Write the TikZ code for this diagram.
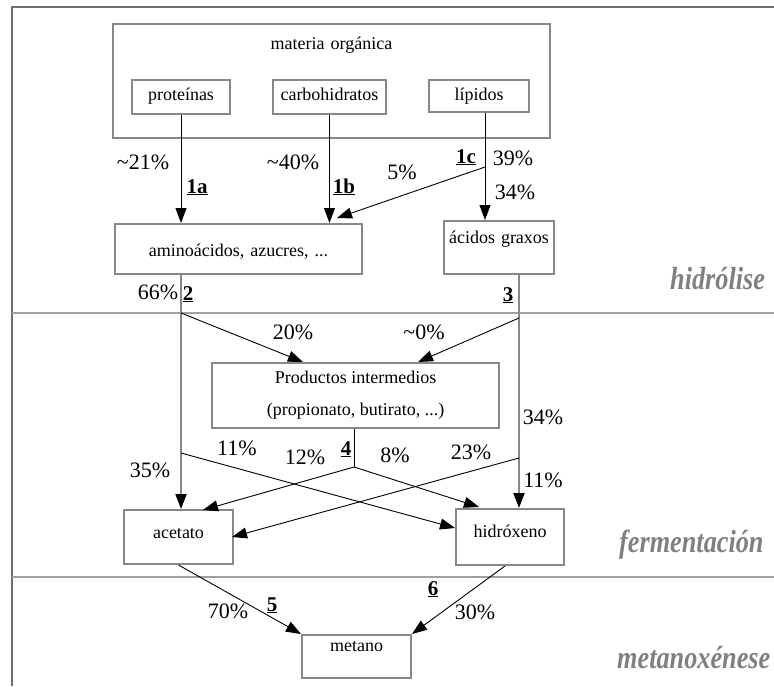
\documentclass[tikz,border=0pt]{standalone}
\usepackage{fontspec}
\setmainfont{Liberation Serif}
\newfontfamily\phasefont[FakeStretch=0.82]{Liberation Serif}
\usetikzlibrary{arrows.meta}
\definecolor{boxgray}{HTML}{888888}
\definecolor{sepgray}{HTML}{A0A0A0}
\definecolor{framegray}{HTML}{707070}
\definecolor{phasegray}{HTML}{808080}
\newcommand\ulnum[1]{\underline{\textbf{#1}}}
\begin{document}
\begin{tikzpicture}[x=1pt,y=-1pt,
  box/.style={draw=boxgray, line width=2pt, inner sep=0pt, align=center, anchor=base, font=\fontsize{18}{21}\selectfont},
  lbl/.style={font=\fontsize{22}{26}\selectfont, inner sep=0pt},
  num/.style={font=\fontsize{21}{26}\selectfont, inner sep=0pt, anchor=base},
  phase/.style={font=\fontsize{32}{36}\phasefont\bfseries\itshape, text=phasegray, anchor=base west, inner sep=0pt},
  arr/.style={draw=black, line width=0.9pt, -{Triangle[length=15pt,width=11pt]}},
  garr/.style={draw=boxgray, line width=2pt, -{Triangle[length=15pt,width=11pt,color=black]}},
  plain/.style={draw=black, line width=0.9pt},
  sepline/.style={draw=sepgray, line width=1.3pt},
  frameline/.style={draw=framegray, line width=2pt}]
\useasboundingbox (0,0) rectangle (774,686);
% frame and separators
\coordinate (fTL) at (12,7);
\coordinate (fTR) at (774,7);
\coordinate (fBL) at (12,686);
\draw[frameline] (fBL) -- (fTL) -- (fTR);
\coordinate (s1L) at (12,313);
\coordinate (s1R) at (774,313);
\coordinate (s2L) at (12,577);
\coordinate (s2R) at (774,577);
\draw[sepline] (s1L) -- (s1R);
\draw[sepline] (s2L) -- (s2R);
% boxes
\node[box, text width=437pt, text height=25pt, text depth=89pt] (mo) at (331.5,49) {materia orgánica};
\node[box, text width=98pt, text height=20pt, text depth=14pt] (prot) at (181,100) {proteínas};
\node[box, text width=113pt, text height=20pt, text depth=14pt] (carb) at (329.5,100) {carbohidratos};
\node[box, text width=100pt, text height=20pt, text depth=12pt] (lip) at (479,100) {lípidos};
\node[box, text width=247pt, text height=32pt, text depth=18pt] (amino) at (238.5,256) {aminoácidos, azucres, ...};
\node[box, text width=110pt, text height=22pt, text depth=31pt] (acid) at (499,243) {ácidos graxos};
\node[box, anchor=center, minimum width=287pt, minimum height=65pt, font=\fontsize{18}{32}\selectfont] (prod) at (355.5,395.5) {Productos intermedios\\(propionato, butirato, ...)};
\node[box, text width=109pt, text height=28pt, text depth=26pt] (acet) at (178.5,538) {acetato};
\node[box, text width=108pt, text height=28pt, text depth=28pt] (hidr) at (510,537) {hidróxeno};
\node[box, text width=109pt, text height=16pt, text depth=27pt] (met) at (356.5,651) {metano};
% hydrolysis connectors
\draw[arr] (prot.south) -- (prot.south |- amino.north);
\draw[arr] (carb.south) -- (carb.south |- amino.north);
\coordinate (lipA) at ([xshift=6pt]lip.south);
\draw[arr] (lipA) -- (lipA |- acid.north);
\coordinate (lipB) at (485,167);
\coordinate (c5) at (337,218);
\draw[arr] (lipB) -- (c5);
% fermentation connectors
\coordinate (amA) at (amino.south -| prot.south);
\draw[garr] (amA) -- (amA |- acet.north);
\coordinate (amB) at (181,313);
\coordinate (p1) at (303,362);
\draw[arr] (amB) -- (p1);
\coordinate (amC) at (181,453);
\coordinate (h1) at (455,528);
\draw[arr] (amC) -- (h1);
\coordinate (acA) at ([xshift=20pt]acid.south);
\draw[garr] (acA) -- (acA |- hidr.north);
\coordinate (acB) at (519,318);
\coordinate (p2) at (418,362);
\draw[arr] (acB) -- (p2);
\coordinate (acC) at (519,458);
\coordinate (a1) at (232,537);
\draw[arr] (acC) -- (a1);
\coordinate (pA) at ([xshift=-1.5pt]prod.south);
\coordinate (pB) at (354,467);
\draw[plain] (pA) -- (pB);
\coordinate (t1) at (203,510);
\coordinate (t2) at (479,507);
\draw[arr] (pB) -- (t1);
\draw[arr] (pB) -- (t2);
% methanogenesis connectors
\draw[arr] (acet.south) -- (met.north west);
\draw[arr] ([xshift=-5pt]hidr.south) -- (met.north east);
% percentage labels
\node[lbl] (l21) at (143,162) {\textasciitilde21\%};
\node[lbl] (l40) at (293,162) {\textasciitilde40\%};
\node[lbl] (l5) at (402,172) {5\%};
\node[lbl] (l39) at (513,158) {39\%};
\node[lbl] (l34a) at (515,192) {34\%};
\node[lbl] (l66) at (158,292) {66\%};
\node[lbl] (l20) at (293,332) {20\%};
\node[lbl] (l0) at (424,332) {\textasciitilde0\%};
\node[lbl] (l34b) at (543,417) {34\%};
\node[lbl] (l23) at (471,452) {23\%};
\node[lbl] (l11b) at (543,480) {11\%};
\node[lbl] (l11a) at (237,448) {11\%};
\node[lbl] (l35) at (150,470) {35\%};
\node[lbl] (l12) at (305,457) {12\%};
\node[lbl] (l8) at (395,455) {8\%};
\node[lbl] (l70) at (228,611) {70\%};
\node[lbl] (l30) at (475,612) {30\%};
% step numbers
\node[num] (n1a) at (197,193) {\ulnum{1a}};
\node[num] (n1b) at (344,193) {\ulnum{1b}};
\node[num] (n1c) at (466,163) {\ulnum{1c}};
\node[num] (n2) at (188,300) {\ulnum{2}};
\node[num] (n3) at (508,301) {\ulnum{3}};
\node[num] (n4) at (346,455) {\ulnum{4}};
\node[num] (n5) at (272,611) {\ulnum{5}};
\node[num] (n6) at (433,595) {\ulnum{6}};
% phase labels
\node[phase] (ph1) at (670,289) {hidrólise};
\node[phase] (ph2) at (619,552) {fermentación};
\node[phase] (ph3) at (617,668) {metanoxénese};
\end{tikzpicture}
\end{document}
